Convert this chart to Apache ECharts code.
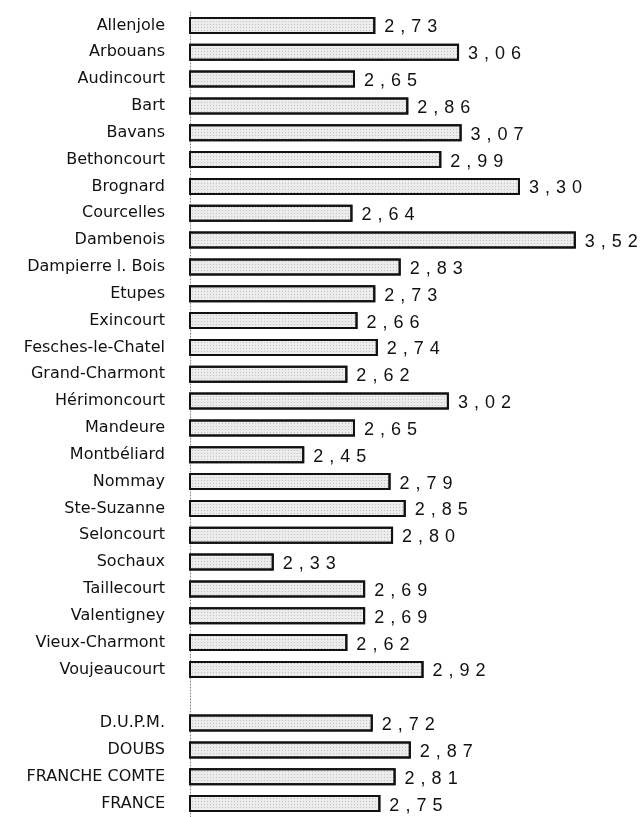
<!DOCTYPE html>
<html>
<head>
<meta charset="utf-8">
<script src="https://cdn.jsdelivr.net/npm/echarts@6/dist/echarts.min.js"></script>
<style>html,body{margin:0;padding:0;background:#fff}#c{width:644px;height:817px}</style>
</head>
<body>
<div id="c"></div>
<script>
const categories = ["Allenjole","Arbouans","Audincourt","Bart","Bavans","Bethoncourt","Brognard","Courcelles","Dambenois","Dampierre l. Bois","Etupes","Exincourt","Fesches-le-Chatel","Grand-Charmont","Hérimoncourt","Mandeure","Montbéliard","Nommay","Ste-Suzanne","Seloncourt","Sochaux","Taillecourt","Valentigney","Vieux-Charmont","Voujeaucourt","","D.U.P.M.","DOUBS","FRANCHE COMTE","FRANCE"];
const values = [2.73,3.06,2.65,2.86,3.07,2.99,3.30,2.64,3.52,2.83,2.73,2.66,2.74,2.62,3.02,2.65,2.45,2.79,2.85,2.80,2.33,2.69,2.69,2.62,2.92,null,2.72,2.87,2.81,2.75];

const chart = echarts.init(document.getElementById('c'), null, {renderer:'canvas'});
const sp = '\u2004';
chart.setOption({
  animation:false,
  backgroundColor:'#fff',
  grid:{left:190, right:22.5, top:12, bottom:-2, containLabel:false},
  xAxis:{type:'value', min:2, max:3.7, show:false},
  yAxis:{
    type:'category', data:categories, inverse:true,
    axisLine:{show:true, lineStyle:{color:'#888', type:[1,2], width:1}},
    axisTick:{show:false},
    axisLabel:{fontFamily:'DejaVu Sans', fontSize:16, color:'#111', margin:25}
  },
  series:[{
    type:'bar', data:values, barWidth:17,
    itemStyle:{color:'#ececec', borderColor:'#111', borderWidth:2,
      decal:{symbol:'rect', symbolSize:1, dashArrayX:[1,2], dashArrayY:[1,2], color:'rgba(0,0,0,0.18)'}},
    label:{show:true, position:'right', distance:9, offset:[0,2],
      fontFamily:'Liberation Sans', fontSize:18, color:'#111',
      formatter:p => p.value == null ? '' : p.value.toFixed(2).replace('.', ',').split('').join(sp)}
  }]
});
</script>
</body>
</html>
